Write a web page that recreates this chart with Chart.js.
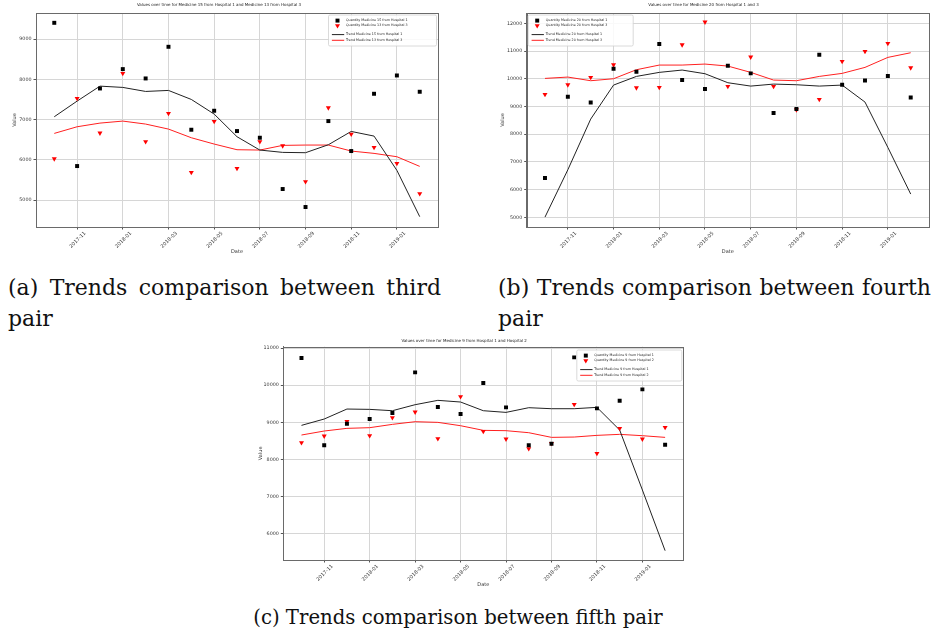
<!DOCTYPE html>
<html>
<head>
<meta charset="utf-8">
<script src="https://cdn.jsdelivr.net/npm/chart.js@4.4.1/dist/chart.umd.min.js"></script>
<style>
  body { margin: 0; background: #fff; width: 935px; height: 639px; position: relative; overflow: hidden; }
  canvas { position: absolute; }
  .cap { position: absolute; font-family: 'DejaVu Serif', serif; color: #111; white-space: normal; }
  .just { text-align: justify; text-align-last: left; }
</style>
</head>
<body>
<canvas id="chartA" width="445" height="258" style="left:0px;top:0px"></canvas>
<canvas id="chartB" width="457" height="258" style="left:478px;top:0px"></canvas>
<canvas id="chartC" width="445" height="257" style="left:245px;top:334px"></canvas>
<div class="cap just" style="left:8px;top:272px;width:433px;font-size:22px;line-height:31px">(a) Trends comparison between third pair</div>
<div class="cap just" style="left:498px;top:272px;width:433px;font-size:22px;line-height:31px">(b) Trends comparison between fourth pair</div>
<div class="cap" style="left:238px;top:605px;width:440px;text-align:center;font-size:19.7px;line-height:26px">(c) Trends comparison between fifth pair</div>
<script>
const months = ['2017-10', '2017-11', '2017-12', '2018-01', '2018-02', '2018-03', '2018-04', '2018-05', '2018-06',
  '2018-07', '2018-08', '2018-09', '2018-10', '2018-11', '2018-12', '2019-01', '2019-02'];
const monthTicks = [1, 3, 5, 7, 9, 11, 13, 15];

// (a) medicine 15 / hospital 1 vs medicine 13 / hospital 3
const qtyMed15H1 = [9406, 5845, 7774, 8255, 8023, 8810, 6748, 7220, 6715, 6549, 5274, 4827, 6963, 6218, 7642, 8097, 7692];
const qtyMed13H3 = [6027, 7526, 6665, 8147, 6450, 7154, 5688, 6955, 5787, 6450, 6350, 5456, 7294, 6640, 6309, 5912, 5158];
const trendMed15H1 = [7071, 7460, 7832, 7800, 7700, 7725, 7501, 7137, 6574, 6243, 6185, 6177, 6375, 6706, 6590, 5738, 4587];
const trendMed13H3 = [6657, 6822, 6913, 6963, 6889, 6764, 6549, 6392, 6251, 6243, 6359, 6367, 6367, 6218, 6160, 6077, 5837];
const yTicksA = [5000, 6000, 7000, 8000, 9000];

// (b) medicine 20, hospital 1 vs hospital 3
const qtyMed20H1 = [6418, 9353, 9149, 10364, 10256, 11254, 9955, 9630, 10472, 10196, 8764, 8908, 10869, 9786, 9943, 10099, 9329];
const qtyMed20H3 = [9438, 9786, 10051, 10508, 9678, 9690, 11230, 12048, 9726, 10785, 9726, 8884, 9257, 10629, 10989, 11278, 10400];
const trendMed20H1 = [5010, 6719, 8547, 9774, 10087, 10232, 10316, 10184, 9859, 9738, 9810, 9786, 9738, 9774, 9161, 7525, 5841];
const trendMed20H3 = [10015, 10063, 9931, 10003, 10328, 10496, 10496, 10532, 10460, 10232, 9955, 9931, 10087, 10196, 10412, 10773, 10941];
const yTicksB = [5000, 6000, 7000, 8000, 9000, 10000, 11000, 12000];

// (c) medicine 9, hospital 1 vs hospital 2
const qtyMed9H1 = [10731, 8379, 8962, 9088, 9249, 10345, 9411, 9223, 10057, 9402, 8379, 8424, 10749, 9375, 9582, 9887, 8397];
const qtyMed9H2 = [8450, 8630, 9025, 8639, 9124, 9276, 8558, 9689, 8756, 8549, 8289, 8433, 9483, 8163, 8837, 8549, 8863];
const trendMed9H1 = [8917, 9088, 9357, 9348, 9312, 9474, 9591, 9546, 9312, 9267, 9393, 9366, 9366, 9402, 8792, 7176, 5542];
const trendMed9H2 = [8657, 8765, 8837, 8855, 8944, 9016, 8998, 8908, 8783, 8774, 8720, 8594, 8603, 8648, 8675, 8639, 8594];
const yTicksC = [6000, 7000, 8000, 9000, 10000, 11000];

Chart.defaults.font.family = "'DejaVu Sans', sans-serif";
Chart.defaults.color = '#333';

const toXY = vals => vals.map((v, i) => ({x: i, y: v}));

// top + right spines, matplotlib style
const frame = {
  id: 'frame',
  afterDraw(chart) {
    const {ctx, chartArea: a} = chart;
    ctx.save();
    ctx.strokeStyle = '#6a6a6a';
    ctx.lineWidth = 1;
    ctx.strokeRect(Math.round(a.left) + 0.5, Math.round(a.top) + 0.5, Math.round(a.right - a.left), Math.round(a.bottom - a.top));
    ctx.restore();
  }
};

// legend box drawn inside the axes
const boxLegend = {
  id: 'boxLegend',
  afterDraw(chart, args, o) {
    const {ctx, chartArea: a} = chart;
    const x0 = o.side === 'right' ? a.right - 1.5 - o.width : a.left + 1.5;
    const y0 = a.top + o.top;
    const rows = [5.6, 10.6, 19.6, 25.3];
    ctx.save();
    ctx.fillStyle = 'rgba(255,255,255,0.85)';
    ctx.strokeStyle = '#d0d0d0';
    ctx.lineWidth = 0.8;
    ctx.beginPath();
    ctx.roundRect(x0, y0, o.width, 31, 1.5);
    ctx.fill();
    ctx.stroke();
    ctx.font = o.fontSize + "px 'DejaVu Sans'";
    ctx.textBaseline = 'middle';
    chart.data.datasets.forEach((d, i) => {
      const y = y0 + rows[i];
      if (d.showLine) {
        ctx.strokeStyle = d.borderColor;
        ctx.lineWidth = 1;
        ctx.beginPath();
        ctx.moveTo(x0 + 3.4, y);
        ctx.lineTo(x0 + 15.7, y);
        ctx.stroke();
      } else {
        ctx.fillStyle = d.pointBackgroundColor;
        Chart.helpers.drawPoint(ctx, {pointStyle: d.pointStyle, rotation: d.pointRotation || 0, radius: d.pointRadius, borderWidth: 0}, x0 + 9, y);
      }
      ctx.fillStyle = '#222';
      ctx.fillText(d.label, x0 + 17.5, y);
    });
    ctx.restore();
  }
};

function drawPanel(id, p) {
  const grid = {color: '#d6d6d6', tickColor: '#555', tickLength: 2.5, lineWidth: 1};
  const border = {display: true, color: '#6a6a6a', width: 1};
  return new Chart(document.getElementById(id), {
    type: 'scatter',
    data: {
      datasets: [
        {label: p.names[0], data: toXY(p.qty1), pointStyle: 'rect', pointRadius: 2.8, pointHoverRadius: 2.8,
          pointBackgroundColor: '#000', pointBorderColor: '#000', pointBorderWidth: 0},
        {label: p.names[1], data: toXY(p.qty2), pointStyle: 'triangle', pointRotation: 180, pointRadius: 2.9, pointHoverRadius: 2.9,
          pointBackgroundColor: '#ff0000', pointBorderColor: '#ff0000', pointBorderWidth: 0},
        {label: p.names[2], data: toXY(p.trend1), showLine: true, pointRadius: 0, pointHoverRadius: 0,
          borderColor: '#222', borderWidth: 1, tension: 0},
        {label: p.names[3], data: toXY(p.trend2), showLine: true, pointRadius: 0, pointHoverRadius: 0,
          borderColor: '#ff2020', borderWidth: 1, tension: 0}
      ]
    },
    options: {
      responsive: false,
      animation: false,
      devicePixelRatio: 1,
      layout: {padding: {left: 0, right: p.padRight, top: 0, bottom: 0}},
      plugins: {
        legend: {display: false},
        tooltip: {enabled: false},
        title: {display: true, text: p.title, color: '#222', font: {size: 4, weight: 'normal'},
          padding: {top: p.titleTop, bottom: p.titleBottom}},
        boxLegend: p.legend
      },
      scales: {
        x: {
          type: 'linear', min: -0.8, max: 16.8,
          afterBuildTicks: s => { s.ticks = monthTicks.map(v => ({value: v})); },
          afterFit: s => { s.height = p.xAxisH; },
          ticks: {callback: v => months[v], autoSkip: false, minRotation: 45, maxRotation: 45,
            font: {size: 5}, color: '#333', padding: 1, labelOffset: 8},
          grid: grid,
          border: border,
          title: {display: true, text: 'Date', color: '#333', font: {size: 5}, padding: 3}
        },
        y: {
          min: p.yMin, max: p.yMax,
          afterBuildTicks: s => { s.ticks = p.yTicks.map(v => ({value: v})); },
          afterFit: s => { s.width = p.yAxisW; },
          ticks: {callback: v => String(v), font: {size: 4.8}, color: '#333', padding: 2},
          grid: grid,
          border: border,
          title: {display: true, text: 'Value', color: '#333', font: {size: 5}, padding: p.yTitlePad}
        }
      }
    },
    plugins: [frame, boxLegend]
  });
}

drawPanel('chartA', {
  title: 'Values over time for Medicine 15 from Hospital 1 and Medicine 13 from Hospital 3',
  names: ['Quantity Medicine 15 from Hospital 1', 'Quantity Medicine 13 from Hospital 3',
    'Trend Medicine 15 from Hospital 1', 'Trend Medicine 13 from Hospital 3'],
  qty1: qtyMed15H1, qty2: qtyMed13H3, trend1: trendMed15H1, trend2: trendMed13H3,
  yMin: 4330, yMax: 9650, yTicks: yTicksA,
  yAxisW: 36, xAxisH: 31, padRight: 7, titleTop: 3, titleBottom: 5.2, yTitlePad: 12,
  legend: {side: 'right', width: 108, top: 2, fontSize: 3.3}
});

drawPanel('chartB', {
  title: 'Values over time for Medicine 20 from Hospital 1 and 3',
  names: ['Quantity Medicine 20 from Hospital 1', 'Quantity Medicine 20 from Hospital 3',
    'Trend Medicine 20 from Hospital 1', 'Trend Medicine 20 from Hospital 3'],
  qty1: qtyMed20H1, qty2: qtyMed20H3, trend1: trendMed20H1, trend2: trendMed20H3,
  yMin: 4653, yMax: 12375, yTicks: yTicksB,
  yAxisW: 48.7, xAxisH: 31, padRight: 6, titleTop: 3, titleBottom: 5.2, yTitlePad: 22,
  legend: {side: 'left', width: 105, top: 2, fontSize: 3.3}
});

drawPanel('chartC', {
  title: 'Values over time for Medicine 9 from Hospital 1 and Hospital 2',
  names: ['Quantity Medicine 9 from Hospital 1', 'Quantity Medicine 9 from Hospital 2',
    'Trend Medicine 9 from Hospital 1', 'Trend Medicine 9 from Hospital 2'],
  qty1: qtyMed9H1, qty2: qtyMed9H2, trend1: trendMed9H1, trend2: trendMed9H2,
  yMin: 5291, yMax: 11036, yTicks: yTicksC,
  yAxisW: 38.3, xAxisH: 31, padRight: 6.7, titleTop: 4.6, titleBottom: 3.3, yTitlePad: 12.5,
  legend: {side: 'right', width: 105, top: 3.3, fontSize: 3.3}
});
</script>
</body>
</html>
